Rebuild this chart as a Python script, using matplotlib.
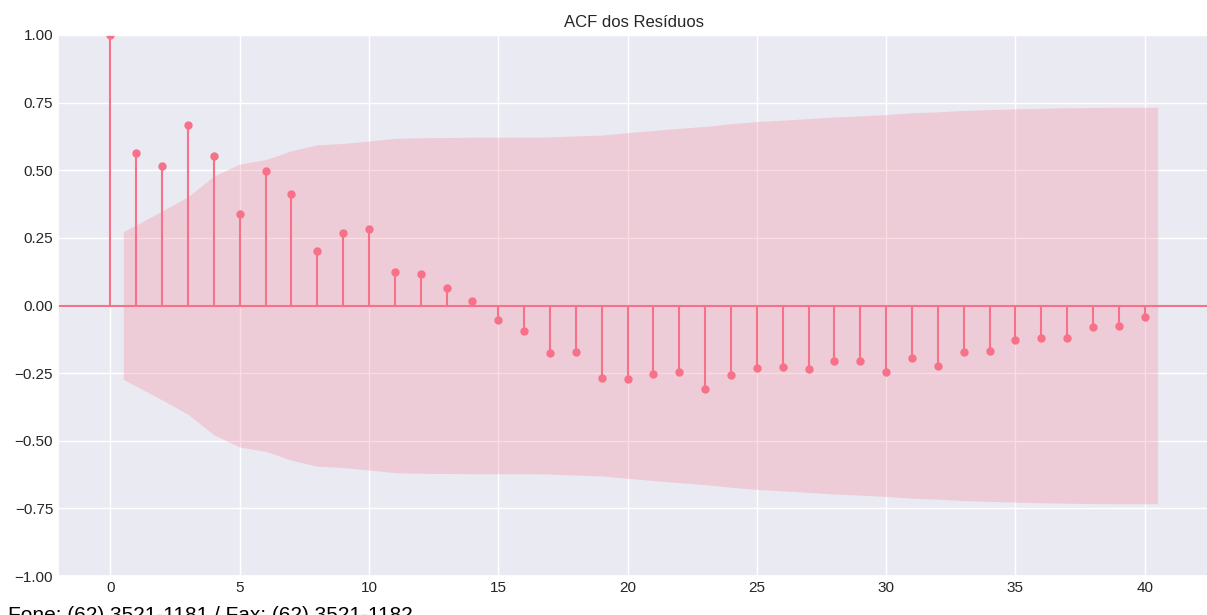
import matplotlib.pyplot as plt
import numpy as np
import seaborn as sns

# ACF values (lags 0..40)
lags = np.arange(41)
acf_vals = [1.000, 0.564, 0.515, 0.668, 0.553, 0.338, 0.496, 0.413, 0.203, 0.267,
            0.282, 0.123, 0.115, 0.064, 0.018, -0.054, -0.096, -0.174, -0.171, -0.269,
            -0.273, -0.253, -0.246, -0.310, -0.258, -0.230, -0.227, -0.235, -0.204, -0.204,
            -0.246, -0.193, -0.224, -0.171, -0.167, -0.129, -0.121, -0.121, -0.081, -0.076,
            -0.043]
# half-width of the confidence band at lags 1..40
band = [0.273, 0.349, 0.402, 0.478, 0.523, 0.539, 0.572, 0.594, 0.599, 0.608,
        0.618, 0.620, 0.621, 0.622, 0.622, 0.622, 0.623, 0.627, 0.630, 0.639,
        0.647, 0.655, 0.662, 0.672, 0.680, 0.685, 0.691, 0.697, 0.701, 0.706,
        0.712, 0.716, 0.721, 0.724, 0.727, 0.729, 0.731, 0.732, 0.733, 0.733]

title = "ACF dos Resíduos"
footer = "Fone: (62) 3521-1181 / Fax: (62) 3521-1182"

sns.set_theme(style="darkgrid")
plt.rcParams['font.family'] = ['Liberation Sans', 'DejaVu Sans']

color = sns.color_palette("husl")[0]

fig = plt.figure(figsize=(12.07, 6.15), dpi=100)
ax = fig.add_axes([58 / 1207, 39 / 615, 1152 / 1207, 541 / 615])

band_x = lags[1:].astype(float)
band_x[0] -= 0.5
band_x[-1] += 0.5
band = np.array(band)
ax.fill_between(band_x, -band, band, color=color, alpha=0.25, linewidth=0)

ax.axhline(0, color=color, linewidth=1.5)
ax.vlines(lags, 0, acf_vals, color=color, linewidth=1.5)
ax.plot(lags, acf_vals, marker='o', markersize=5, linestyle='None', color=color)

ax.set_xlim(-2.025, 42.525)
ax.set_ylim(-1, 1)
ax.set_xticks(np.arange(0, 41, 5))
ax.set_yticks(np.arange(-1, 1.01, 0.25))
ax.tick_params(length=0, pad=3.5, labelsize=11)
ax.set_title(title, fontsize=12)

# screenshot footer, mostly cut off by the bottom edge
fig.text(8 / 1207, -6 / 615, footer, fontsize=15, color='black', va='baseline')

fig.savefig("out.png", dpi=100)
